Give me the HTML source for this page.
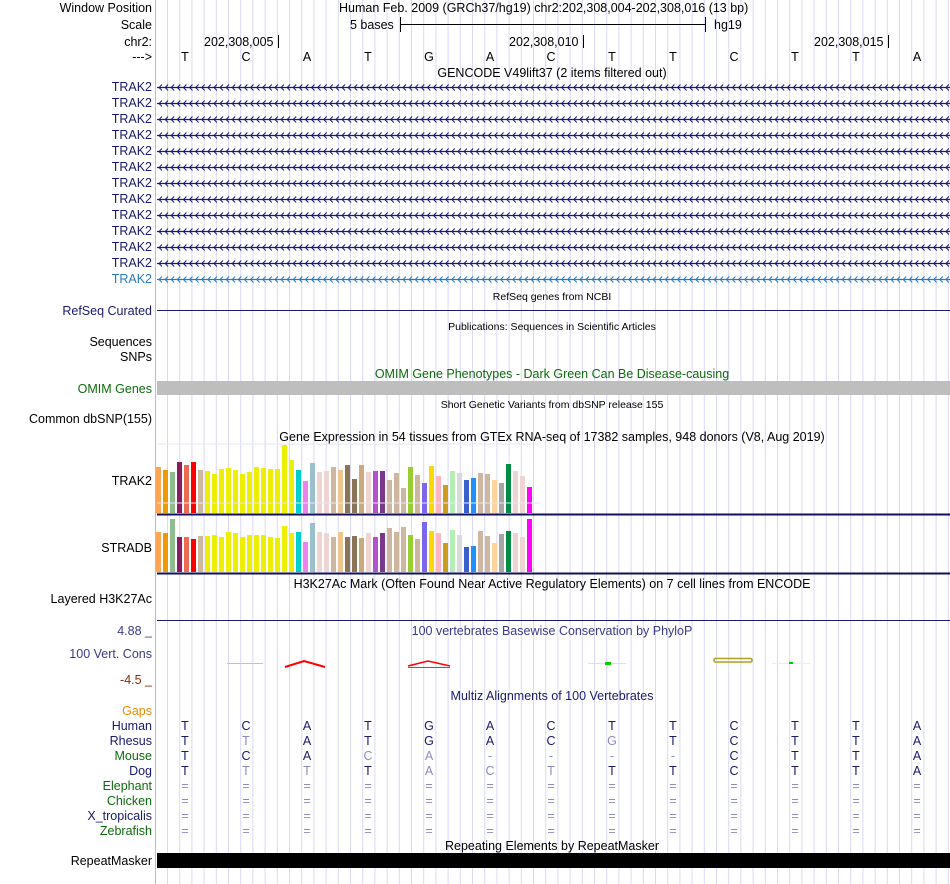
<!DOCTYPE html>
<html><head><meta charset="utf-8"><style>
body{margin:0;background:#fff;width:950px;height:884px;overflow:hidden;position:relative;font-family:"Liberation Sans",sans-serif;font-size:12.5px}
.t{position:absolute;white-space:nowrap;line-height:14px}
.l{position:absolute;right:798px;white-space:nowrap;line-height:14px;text-align:right}
svg{position:absolute;left:0;top:0}
</style></head><body>
<svg id="g" width="950" height="884"></svg>
<div id="txt"></div>
<script>
const tissueColors=["#FFA54F","#EE9A00","#8FBC8F","#8B1C62","#EE6A50","#FF0000","#CDB79E","#EEEE00","#EEEE00","#EEEE00","#EEEE00","#EEEE00","#EEEE00","#EEEE00","#EEEE00","#EEEE00","#EEEE00","#EEEE00","#EEEE00","#EEEE00","#00CDCD","#EE82EE","#9AC0CD","#EED5D2","#EED5D2","#CDB79E","#EEC591","#8B7355","#8B7355","#CDAA7D","#EED5D2","#B452CD","#7A378B","#CDB79E","#CDB79E","#CDB79E","#9ACD32","#CDB79E","#7A67EE","#FFD700","#FFB6C1","#CD9B1D","#B4EEB4","#D9D9D9","#3A5FCD","#1E90FF","#CDB79E","#CDB79E","#FFD39B","#A6A6A6","#008B45","#EED5D2","#EED5D2","#FF00FF"];
const trak2Values=[46,43,41,51,48,51,43,42,39,44,45,43,39,41,46,45,44,44,68,53,43,32,50,41,42,46,43,48,34,48,41,42,42,33,40,25,46,38,30,47,37,28,42,40,33,35,40,39,33,30,49,42,37,26];
const stradbValues=[40,39,53,35,35,33,36,36,37,35,40,39,35,37,37,37,35,34,46,39,40,30,49,40,39,35,40,35,36,34,39,35,39,44,40,45,37,33,50,41,39,29,42,37,25,26,41,36,29,38,41,39,35,53];
const bases=["T","C","A","T","G","A","C","T","T","C","T","T","A"];
const species=["Human","Rhesus","Mouse","Dog","Elephant","Chicken","X_tropicalis","Zebrafish"];
const speciesColors=["#1a1a6e","#1a1a6e","#0d6b0d","#1a1a6e","#0d6b0d","#0d6b0d","#1a1a6e","#0d6b0d"];
const rhesus=["T","t","A","T","G","A","C","g","T","C","T","T","A"];
const mouse=["T","C","A","c","a","-","-","-","-","C","T","T","A"];
const dog=["T","t","t","T","a","c","t","T","T","C","T","T","A"];

const NS="http://www.w3.org/2000/svg";
const svg=document.getElementById('g');
const txt=document.getElementById('txt');
function S(tag,attrs,name){const e=document.createElementNS(NS,tag);for(const k in attrs)e.setAttribute(k,attrs[k]);


svg.appendChild(e);return e;}
function T(s,x,y,color,name,cls,size,anchor){const d=document.createElement('div');d.className=cls||'t';d.textContent=s;
if(cls==='l'){d.style.top=(y-7)+'px';}else{d.style.top=(y-7)+'px';d.style.left=x+'px';if(anchor==='c')d.style.transform='translateX(-50%)';}
if(color)d.style.color=color;if(size)d.style.fontSize=size+'px';


txt.appendChild(d);return d;}

// grid
for(let x=167.5;x<950;x+=12.2){S('line',{x1:x,x2:x,y1:0,y2:884,stroke:'#d9d9f3','stroke-width':1},'grid-line');}
S('line',{x1:155.5,x2:155.5,y1:0,y2:884,stroke:'#f4a6a6','stroke-width':1},'label-divider');

// header
T("Window Position",0,8,'#000','window-position-label','l');
T("Scale",0,25,'#000','scale-label','l');
T("chr2:",0,42,'#000','chr-label','l');
T("--->",0,57,'#000','strand-label','l');
T("Human Feb. 2009 (GRCh37/hg19)   chr2:202,308,004-202,308,016 (13 bp)",339,8,'#000','window-position');
T("5 bases",350,25,'#000','scale-text');
S('line',{x1:400,x2:706,y1:24.5,y2:24.5,stroke:'#000'},'scale-bar');
S('line',{x1:400.5,x2:400.5,y1:17,y2:32,stroke:'#000'},'scale-tick-left');
S('line',{x1:705.5,x2:705.5,y1:17,y2:32,stroke:'#000'},'scale-tick-right');
T("hg19",714,25,'#000','assembly-label');
[["202,308,005",278],["202,308,010",583],["202,308,015",888]].forEach(p=>{T(p[0],p[1]-74,42,'#000','ruler-label');S('line',{x1:p[1]+.5,x2:p[1]+.5,y1:35,y2:48,stroke:'#000'},'ruler-tick');});
const bx=i=>185+61*i;
bases.forEach((b,i)=>T(b,bx(i),57,'#000','base-'+i,null,null,'c'));

// GENCODE
T("GENCODE V49lift37 (2 items filtered out)",552,73,'#000','gencode-title',null,null,'c');
for(let r=0;r<13;r++){const y=87+16*r;const c=r==12?'#2a7ab8':'#1a1a6e';
T("TRAK2",0,y,c,'trak2-label','l');
S('line',{x1:157,x2:950,y1:y+.5,y2:y+.5,stroke:c,'stroke-width':1.2},'gene-line');
let d='';for(let x=159;x<950;x+=6.1){d+=`M${x+3} ${y-2.5}L${x} ${y+.5}L${x+3} ${y+3.5}`;}
S('path',{d:d,stroke:c,fill:'none','stroke-width':1},'strand-arrows');}

T("RefSeq genes from NCBI",552,297,'#000','refseq-title',null,10.5,'c');
T("RefSeq Curated",0,311,'#1a1a6e','refseq-label','l');
S('line',{x1:157,x2:950,y1:310.5,y2:310.5,stroke:'#1a1a6e'},'refseq-line');
T("Publications: Sequences in Scientific Articles",552,327,'#000','publications-title',null,10.5,'c');
T("Sequences",0,342,'#000','sequences-label','l');
T("SNPs",0,357,'#000','snps-label','l');
T("OMIM Gene Phenotypes - Dark Green Can Be Disease-causing",552,374,'#0d6b0d','omim-title',null,null,'c');
T("OMIM Genes",0,389,'#0d6b0d','omim-label','l');
S('rect',{x:157,y:381,width:793,height:14,fill:'#bebebe'},'omim-bar');
T("Short Genetic Variants from dbSNP release 155",552,405,'#000','dbsnp-title',null,10.5,'c');
T("Common dbSNP(155)",0,419,'#000','dbsnp-label','l');
T("Gene Expression in 54 tissues from GTEx RNA-seq of 17382 samples, 948 donors (V8, Aug 2019)",552,437,'#000','gtex-title',null,null,'c');

// GTEx bars
const PX=1.0; // px per unit
function panel(vals,base,name){
S('line',{x1:157,x2:540,y1:base-69,y2:base-69,stroke:'#e6e6f3'},name+'-top-line');
vals.forEach((v,i)=>{const h=v*PX;S('rect',{x:156+i*7,y:base-h,width:5,height:h,fill:tissueColors[i]},name+'-bar-'+i);});
S('rect',{x:157,y:base+0.5,width:793,height:2,fill:'#10105e'},name+'-baseline');}
panel(trak2Values,513,'trak2');
panel(stradbValues,572,'stradb');
T("TRAK2",0,481,'#000','gtex-trak2-label','l');
T("STRADB",0,548,'#000','gtex-stradb-label','l');

T("H3K27Ac Mark (Often Found Near Active Regulatory Elements) on 7 cell lines from ENCODE",552,584,'#000','h3k27ac-title',null,null,'c');
T("Layered H3K27Ac",0,599,'#000','h3k27ac-label','l');
S('line',{x1:157,x2:950,y1:620.5,y2:620.5,stroke:'#1a1a6e'},'h3k27ac-line');

T("100 vertebrates Basewise Conservation by PhyloP",552,631,'#3a3a8a','phylop-title',null,null,'c');
T("4.88 _",0,631,'#3a3a8a','phylop-max','l');
T("100 Vert. Cons",0,654,'#3a3a8a','phylop-label','l');
T("-4.5 _",0,680,'#8b2a0a','phylop-min','l');
S('line',{x1:227,x2:263,y1:663.5,y2:663.5,stroke:'#c8c890'},'phylop-mark');
S('path',{d:'M285 667L304 661L325 667',stroke:'#f00',fill:'none','stroke-width':2},'phylop-mark');
S('path',{d:'M408 666L428 661L450 666',stroke:'#f00',fill:'none','stroke-width':1.5},'phylop-mark');
S('line',{x1:408,x2:450,y1:667.5,y2:667.5,stroke:'#5555ff'},'phylop-mark');
S('line',{x1:588,x2:626,y1:663.5,y2:663.5,stroke:'#ccf0cc'},'phylop-mark');
S('rect',{x:605,y:662,width:6,height:3,fill:'#0c0'},'phylop-mark');
S('rect',{x:714,y:658.5,width:38,height:3.5,fill:'none',stroke:'#b0a020','stroke-width':1.5,rx:1.5},'phylop-mark');
S('line',{x1:772,x2:810,y1:663.5,y2:663.5,stroke:'#e0f4e0'},'phylop-mark');
S('rect',{x:789,y:662,width:4,height:2,fill:'#0c0'},'phylop-mark');

T("Multiz Alignments of 100 Vertebrates",552,696,'#1a1a6e','multiz-title',null,null,'c');
T("Gaps",0,711,'#f08a00','gaps-label','l');
species.forEach((s,i)=>T(s,0,726+15*i,speciesColors[i],'species-'+s,'l'));
const dark='#1a1a6e',light='#8c8cc0';
function row(arr,y,name){arr.forEach((b,i)=>{const up=b.toUpperCase();const lc=(b!==up)||b==='-';T(up,bx(i),y,lc?light:dark,name+'-base-'+i,null,null,'c');});}
row(bases,726,'human');row(rhesus,741,'rhesus');row(mouse,756,'mouse');row(dog,771,'dog');
for(let r=0;r<4;r++)bases.forEach((b,i)=>T("=",bx(i),786+15*r,light,'gap-mark',null,null,'c'));

T("Repeating Elements by RepeatMasker",552,846,'#000','repeatmasker-title',null,null,'c');
T("RepeatMasker",0,861,'#000','repeatmasker-label','l');
S('rect',{x:157,y:853,width:793,height:15,fill:'#000'},'repeatmasker-bar');
</script>
</body></html>
